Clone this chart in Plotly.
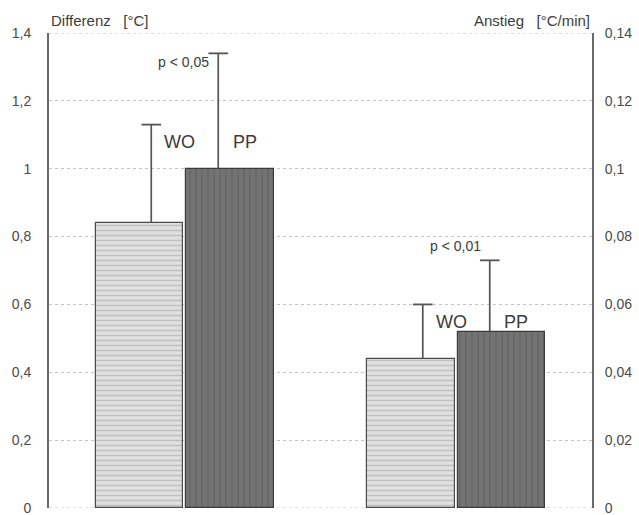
import plotly.graph_objects as go

# Two measures, each comparing WO and PP
groups = ["Differenz", "Anstieg"]
wo_values = [0.84, 0.044]
pp_values = [1.00, 0.052]
wo_err = [0.29, 0.016]
pp_err = [0.34, 0.021]
p_labels = ["p < 0,05", "p < 0,01"]

left_ticks = [0, 0.2, 0.4, 0.6, 0.8, 1.0, 1.2, 1.4]
left_tick_text = ["0", "0,2", "0,4", "0,6", "0,8", "1", "1,2", "1,4"]
right_ticks = [0, 0.02, 0.04, 0.06, 0.08, 0.10, 0.12, 0.14]
right_tick_text = ["0", "0,02", "0,04", "0,06", "0,08", "0,1", "0,12", "0,14"]

# layout helpers (x positions of the groups, label heights per axis)
group_pos = [1.5, 4.5]
label_pos = [1.08, 0.0548]
p_pos = [1.314, 0.0772]
bar_w = 0.97
half = 0.5
whisker_shift = 0.13
axes = ["y", "y2"]

FONT = "Liberation Sans, Arial, sans-serif"
INK = "#3c3c3c"
WHISKER = "#555555"
GRID = "#c4c4c4"

fig = go.Figure()

for i, g in enumerate(groups):
    yax = axes[i]
    xc = group_pos[i]
    x_wo = xc - half
    x_pp = xc + half
    # WO bar: light grey with horizontal hatching
    fig.add_trace(go.Bar(
        x=[x_wo], y=[wo_values[i]], width=bar_w, yaxis=yax,
        marker=dict(color="#dcdcdc", line=dict(color="#4a4a4a", width=1.2),
                    pattern=dict(shape="-", fgcolor="#9e9e9e", bgcolor="#e0e0e0",
                                 size=5, solidity=0.3)),
        showlegend=False, hoverinfo="skip"))
    # PP bar: dark grey with vertical streaks
    fig.add_trace(go.Bar(
        x=[x_pp], y=[pp_values[i]], width=bar_w, yaxis=yax,
        marker=dict(color="#6e6e6e", line=dict(color="#3a3a3a", width=1.2),
                    pattern=dict(shape="|", fgcolor="#5e5e5e", bgcolor="#747474",
                                 size=6, solidity=0.35)),
        showlegend=False, hoverinfo="skip"))
    # upward whiskers starting at the bar tops
    wx = [x_wo + whisker_shift, x_pp - whisker_shift]
    base = [wo_values[i], pp_values[i]]
    tops = [wo_values[i] + wo_err[i], pp_values[i] + pp_err[i]]
    fig.add_trace(go.Scatter(
        x=[wx[0], wx[0], None, wx[1], wx[1]],
        y=[base[0], tops[0], None, base[1], tops[1]],
        yaxis=yax, mode="lines", line=dict(color=WHISKER, width=1.7),
        showlegend=False, hoverinfo="skip"))
    fig.add_trace(go.Scatter(
        x=wx, y=tops, yaxis=yax, mode="markers",
        marker=dict(symbol="line-ew", size=14,
                    line=dict(color=WHISKER, width=1.8)),
        showlegend=False, hoverinfo="skip"))
    yref = "y" if yax == "y" else "y2"
    # series labels beside the whiskers
    fig.add_annotation(x=wx[0] + 0.12, y=label_pos[i], xref="x", yref=yref,
                       text="WO", showarrow=False, xanchor="left", yanchor="middle",
                       font=dict(family=FONT, size=18, color=INK))
    fig.add_annotation(x=wx[1] + 0.14, y=label_pos[i], xref="x", yref=yref,
                       text="PP", showarrow=False, xanchor="left", yanchor="middle",
                       font=dict(family=FONT, size=18, color=INK))
    # significance note left of the PP whisker
    fig.add_annotation(x=wx[1] - 0.08, y=p_pos[i], xref="x", yref=yref,
                       text=p_labels[i], showarrow=False,
                       xanchor="right", yanchor="middle",
                       font=dict(family=FONT, size=14, color=INK))

# dotted rules at the bottom and top of the scale
for v in (left_ticks[0], left_ticks[-1]):
    fig.add_shape(type="line", xref="paper", yref="y", x0=0, x1=1, y0=v, y1=v,
                  line=dict(color=GRID, width=1, dash="dot"), layer="below")

# axis captions
fig.add_annotation(x=0, y=1.0, xref="paper", yref="paper", text="Differenz   [°C]",
                   showarrow=False, xanchor="left", yanchor="bottom", yshift=2,
                   font=dict(family=FONT, size=15, color=INK))
fig.add_annotation(x=1, y=1.0, xref="paper", yref="paper", text="Anstieg   [°C/min]",
                   showarrow=False, xanchor="right", yanchor="bottom", yshift=2,
                   font=dict(family=FONT, size=15, color=INK))

fig.update_layout(
    width=639, height=515,
    margin=dict(l=49, r=47, t=33, b=7),
    paper_bgcolor="white", plot_bgcolor="white",
    barmode="overlay", bargap=0,
    xaxis=dict(range=[0, 6], showticklabels=False, showgrid=False,
               zeroline=False, showline=False, ticks="", automargin=False),
    yaxis=dict(range=[0, 1.4], tickvals=left_ticks, ticktext=left_tick_text,
               showline=True, linecolor="#6a6a6a", linewidth=2, ticks="",
               showgrid=True, gridcolor=GRID, griddash="dot", gridwidth=1,
               zeroline=False, ticklabelstandoff=13, ticklabeloverflow="allow",
               automargin=False,
               tickfont=dict(family=FONT, size=14, color="#4a4a4a")),
    yaxis2=dict(range=[0, 0.14], tickvals=right_ticks, ticktext=right_tick_text,
                overlaying="y", side="right", showline=True, linecolor="#6a6a6a",
                linewidth=2, ticks="", showgrid=False, zeroline=False,
                ticklabelstandoff=8, ticklabeloverflow="allow", automargin=False,
                tickfont=dict(family=FONT, size=14, color="#4a4a4a")),
)

fig.write_html("out.html")
